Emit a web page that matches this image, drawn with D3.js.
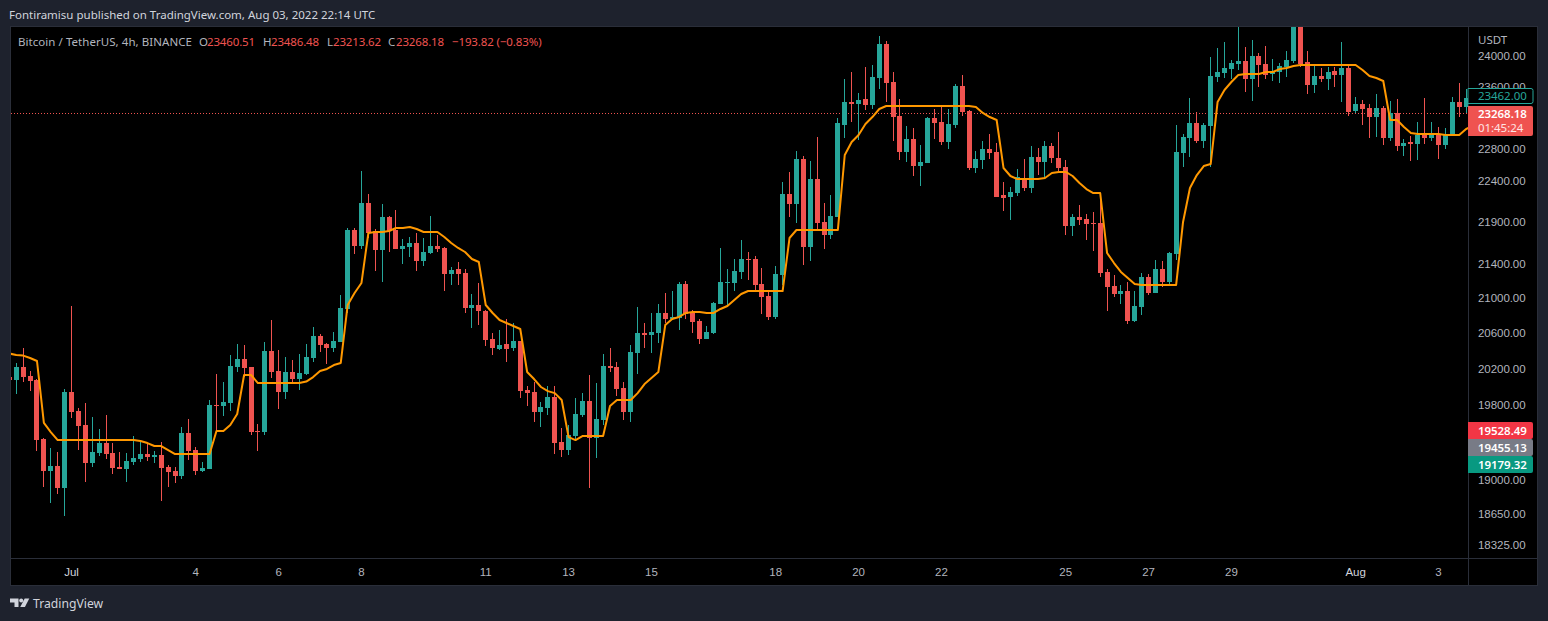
<!DOCTYPE html>
<html>
<head>
<meta charset="utf-8">
<title>BTCUSDT 4h</title>
<script src="https://cdn.jsdelivr.net/npm/d3@7"></script>
<style>
  html, body { margin: 0; padding: 0; background: #1e222d; overflow: hidden; }
  svg { display: block; font-family: "Noto Sans", sans-serif; }
</style>
</head>
<body>
<svg id="chart" width="1548" height="621"></svg>
<script>
// values, one entry per 4h candle
const opens = [20115,20082,20226,20126,20082,19439,19098,19151,18921,19949,
  19741,19590,19183,19289,19396,19289,19141,19120,19194,19226,
  19279,19247,19268,19141,19098,19046,19504,19321,19098,19120,
  19807,19796,19829,20226,20316,20226,19525,19514,20406,20182,
  19949,20171,20093,20149,20328,20576,20485,20440,20507,20885,
  21815,21624,22143,21803,21576,21972,21815,21588,21612,21659,
  21445,21540,21624,21600,21293,21351,21304,20896,20931,20862,
  20541,20428,20485,20440,20519,19971,19949,19730,19774,19895,
  19407,19321,19471,19698,19851,19450,19644,20238,20226,19993,
  19730,20384,20610,20587,20610,20839,20770,20781,21175,20839,
  20747,20541,20610,20943,21187,21187,21316,21469,21469,21175,
  21035,20793,21281,22253,22130,22687,21612,22437,21912,21755,
  21972,23116,23411,23386,23450,23373,23723,24173,23671,23231,
  22774,22938,22599,22637,23206,23154,22900,23116,23619,23295,
  22574,22674,22812,22774,22241,22216,22265,22450,22327,22712,
  22649,22849,22699,22587,21864,21972,21948,21900,21900,21316,
  21152,21058,21093,20747,20908,21257,21070,21351,21199,21528,
  22762,22951,23142,22912,23103,23736,23789,23841,23907,23947,
  23710,24013,23907,23776,23802,23868,23947,24520,23934,23632,
  23749,23710,23815,23763,23854,23295,23386,23334,23218,23334,
  22951,23270,22849,22900,22875,22989,22951,22989,22862,22989,
  23411,23347,23460.51];
const highs = [20115,20267,20440,20182,20093,19450,19342,19300,19982,20919,
  19774,19829,19676,19547,19698,19396,19300,19289,19471,19417,
  19385,19310,19407,19162,19141,19568,19655,19353,19194,19862,
  20149,20060,20361,20485,20474,20226,19601,20507,20758,20417,
  20339,20305,20372,20485,20678,20598,20496,20621,21047,21839,
  21839,22537,22253,21827,22130,21985,22057,21707,21731,21779,
  21719,21985,21755,21612,21375,21433,21351,21058,21187,20873,
  20610,20644,20770,20724,20519,20015,20060,19840,20015,20015,
  19557,19590,19884,19938,20138,20049,20372,20440,20283,20060,
  20474,20908,20724,20839,20943,21070,21093,21199,21210,20873,
  20770,20690,20966,21600,21351,21469,21695,21552,21505,21363,
  21093,21386,22400,22525,22787,22724,22662,22963,22143,22241,
  23206,23710,23802,23528,23868,23894,24280,24213,23802,23450,
  23103,23078,22862,23218,23321,23360,23321,23645,23763,23308,
  22787,22912,23001,22887,22400,22339,22562,22687,22849,22824,
  22912,22887,23027,22674,22009,22118,22009,22033,22265,21351,
  21281,21164,21199,21093,21304,21293,21457,21445,21552,23116,
  23001,23463,23282,23142,24000,24120,24200,23960,24420,24133,
  24226,24053,24146,23973,23920,24080,24600,24600,24080,23894,
  23854,23868,23868,24200,23894,23476,23437,23386,23515,23360,
  23424,23450,22938,22976,23154,23463,23154,23090,23078,23476,
  23658,23580,23486.48];
const lows = [20082,19927,20060,19960,19310,18931,18765,18858,18631,19666,
  19321,18983,19141,19257,19226,19067,19120,18983,19162,19194,
  19204,19183,18786,18931,18973,19014,19215,19057,19088,19120,
  19514,19687,19741,20171,20115,19482,19310,19482,20104,19763,
  19873,20038,19971,20138,20283,20395,20260,20395,20507,20839,
  21528,21588,21719,21327,21199,21552,21588,21410,21493,21327,
  21386,21528,21552,21093,21164,21164,20839,20667,20701,20462,
  20361,20417,20283,20406,19884,19796,19622,19568,19698,19279,
  19247,19268,19439,19676,18921,19236,19590,20171,19906,19644,
  19622,20149,20440,20384,20496,20724,20758,20644,20770,20610,
  20485,20541,20598,20943,20931,21093,21234,21222,21105,20827,
  20758,20770,21164,21972,21900,21398,21445,21815,21588,21707,
  21972,22951,23154,22925,23308,23321,23580,23411,22912,22674,
  22649,22475,22351,22637,22938,22862,22812,23078,23231,22549,
  22512,22562,22687,22216,22045,21936,22228,22290,22265,22487,
  22450,22637,22537,21755,21743,21876,21695,21564,21257,20862,
  21024,20943,20712,20735,20816,21047,21070,21140,21164,21457,
  22587,22712,22887,22824,22587,23671,23723,23710,23828,23541,
  23424,23606,23710,23684,23658,23736,23920,23868,23515,23528,
  23671,23567,23606,23411,23231,23270,23116,22951,22963,22862,
  22912,22787,22724,22662,22674,22875,22912,22687,22812,22989,
  23218,23270,23213.62];
const closes = [20082,20226,20115,20071,19428,19098,19151,18921,19949,19730,
  19579,19183,19300,19396,19279,19130,19120,19204,19236,19279,
  19247,19268,19130,19088,19046,19504,19310,19098,19130,19807,
  19796,19840,20238,20316,20216,19514,19514,20406,20171,19949,
  20171,20093,20160,20339,20576,20474,20440,20519,20896,21815,
  21624,22143,21779,21576,21972,21803,21588,21624,21659,21445,
  21552,21624,21588,21293,21339,21293,20896,20931,20862,20530,
  20440,20474,20428,20519,19960,19938,19730,19785,19895,19396,
  19321,19482,19709,19851,19450,19655,20238,20216,19982,19730,
  20395,20610,20587,20621,20839,20770,20793,21175,20827,20735,
  20541,20621,20954,21199,21199,21327,21469,21457,21164,21024,
  20793,21293,22253,22130,22687,21612,22437,21900,21755,21985,
  23142,23411,23386,23437,23373,23736,24173,23658,23218,22774,
  22938,22599,22649,23206,23142,22900,23129,23619,23282,22574,
  22687,22812,22762,22216,22204,22277,22462,22327,22712,22649,
  22849,22699,22574,21864,21972,21936,21888,21888,21304,21140,
  21058,21093,20747,20919,21257,21070,21351,21199,21540,22774,
  22963,23142,22912,23116,23749,23802,23854,23920,23947,23710,
  24013,23894,23763,23815,23881,23960,24520,23907,23632,23749,
  23710,23802,23763,23854,23282,23386,23321,23218,23334,22951,
  23270,22849,22887,22875,22989,22951,22989,22862,23001,23411,
  23347,23463,23268.18];
// orange trend line
const trendLine = [20378,20361,20355,20328,20294,19612,19514,19428,19428,19428,
  19428,19428,19428,19428,19428,19428,19428,19428,19428,19417,
  19396,19364,19364,19321,19279,19279,19279,19279,19279,19279,
  19525,19525,19590,19709,20138,20138,20049,20049,20049,20049,
  20049,20049,20049,20065,20115,20182,20205,20249,20272,20931,
  21070,21187,21779,21791,21791,21803,21839,21839,21851,21827,
  21791,21791,21791,21731,21659,21600,21552,21469,21433,20931,
  20839,20758,20724,20690,20656,20171,20093,20005,19960,19938,
  19862,19460,19428,19471,19471,19471,19471,19796,19862,19862,
  19862,19938,20038,20104,20171,20701,20770,20793,20839,20850,
  20850,20839,20839,20885,20919,20989,21058,21093,21093,21093,
  21093,21093,21093,21719,21815,21815,21815,21815,21815,21815,
  21815,22737,22900,22989,23129,23218,23321,23360,23360,23360,
  23360,23360,23360,23360,23360,23360,23360,23360,23360,23360,
  23347,23270,23218,23180,22574,22475,22437,22437,22437,22437,
  22450,22512,22525,22525,22475,22388,22314,22265,22265,21540,
  21421,21316,21245,21175,21164,21164,21164,21164,21164,21164,
  21912,22327,22487,22599,22624,23411,23567,23671,23763,23776,
  23776,23776,23802,23802,23841,23854,23881,23894,23894,23894,
  23894,23894,23894,23894,23894,23894,23828,23749,23723,23684,
  23180,23180,23090,23014,23001,23001,23001,23001,22989,22989,
  22989,23065,23103];

const priceTicks = [24000,23600,22800,22400,21900,21400,21000,20600,20200,19800,19000,18650,18325];
const timeTickIndex = [9,27,39,51,69,81,93,111,123,135,153,165,177,195,207];
const timeTickLabels = ["Jul","4","6","8","11","13","15","18","20","22","25","27","29","Aug","3"];
const monthLabels = ["Jul","Aug"];

const lastPrice = 23268.18;
const askPrice = 23462.00;
const sideLabels = [
  { text: "19528.49", fill: "#f23645" },
  { text: "19455.13", fill: "#787b86" },
  { text: "19179.32", fill: "#089981" }
];

const pane = { left: 11, right: 1468, top: 27, bottom: 558 };
const frame = { left: 10, right: 1537, top: 27, bottom: 585 };
const upColor = "#26a69a";
const downColor = "#ef5350";
const axisText = "#b2b5be";

const svg = d3.select("#chart");

const x = d3.scaleLinear().domain([9, 207]).range([71, 1438]);
const y = d3.scaleLog().domain([18325, 24000]).range([546, 57]);

// frame
svg.append("rect")
  .attr("x", frame.left + 0.5).attr("y", frame.top - 0.5)
  .attr("width", frame.right - frame.left).attr("height", frame.bottom - frame.top + 1)
  .attr("fill", "#000").attr("stroke", "#2a2e39");

svg.append("defs").append("clipPath").attr("id", "pane").append("rect")
  .attr("x", pane.left).attr("y", pane.top)
  .attr("width", pane.right - pane.left).attr("height", pane.bottom - pane.top);

const plot = svg.append("g").attr("clip-path", "url(#pane)");

// last price dotted line
plot.append("line")
  .attr("x1", pane.left).attr("x2", pane.right)
  .attr("y1", Math.round(y(lastPrice)) + 0.5).attr("y2", Math.round(y(lastPrice)) + 0.5)
  .attr("stroke", downColor).attr("stroke-dasharray", "1 2");

// candles
const candles = plot.selectAll("g.candle")
  .data(d3.range(opens.length))
  .join("g")
  .attr("class", "candle")
  .attr("fill", i => closes[i] >= opens[i] ? upColor : downColor)
  .attr("stroke", "none");

candles.append("rect")
  .attr("x", i => Math.round(x(i)))
  .attr("width", 1)
  .attr("y", i => Math.round(y(highs[i])))
  .attr("height", i => Math.max(1, Math.round(y(lows[i])) - Math.round(y(highs[i]))));

candles.append("rect")
  .attr("x", i => Math.round(x(i)) - 2)
  .attr("width", 5)
  .attr("y", i => Math.round(y(Math.max(opens[i], closes[i]))))
  .attr("height", i => Math.max(1, Math.round(y(Math.min(opens[i], closes[i]))) - Math.round(y(Math.max(opens[i], closes[i])))));

// trend line
const line = d3.line().x((d, i) => x(i) + 0.5).y(d => y(d));
plot.append("path")
  .datum(trendLine)
  .attr("d", line)
  .attr("fill", "none")
  .attr("stroke", "#ff9800")
  .attr("stroke-width", 2)
  .attr("stroke-linejoin", "round");

// axis separators
svg.append("line").attr("x1", pane.right + 0.5).attr("x2", pane.right + 0.5)
  .attr("y1", frame.top).attr("y2", frame.bottom).attr("stroke", "#2a2e39");
svg.append("line").attr("x1", frame.left).attr("x2", frame.right)
  .attr("y1", pane.bottom + 0.5).attr("y2", pane.bottom + 0.5).attr("stroke", "#2a2e39");

// price axis
const yAxis = d3.axisRight(y).tickValues(priceTicks).tickSize(0).tickPadding(0)
  .tickFormat(d => d.toFixed(2));
const yAxisG = svg.append("g")
  .attr("transform", "translate(1478,-0.8)")
  .call(yAxis);
yAxisG.select(".domain").remove();
yAxisG.selectAll("text").attr("fill", axisText).attr("font-size", 11.5)
  .attr("letter-spacing", -0.05).attr("font-family", null);

svg.append("text").attr("x", 1478).attr("y", 44).attr("fill", axisText)
  .attr("font-size", 11.5).text("USDT");

// time axis
const xAxis = d3.axisBottom(x).tickValues(timeTickIndex).tickSize(0).tickPadding(0)
  .tickFormat((d, i) => timeTickLabels[i]);
const xAxisG = svg.append("g")
  .attr("transform", "translate(0,567.5)")
  .call(xAxis);
xAxisG.select(".domain").remove();
xAxisG.selectAll("text")
  .attr("fill", (d, i) => monthLabels.includes(timeTickLabels[i]) ? "#d1d4dc" : axisText)
  .attr("font-weight", (d, i) => monthLabels.includes(timeTickLabels[i]) ? 500 : 400)
  .attr("font-size", 11.5).attr("font-family", null);

// price labels on the axis
function priceBox(top, height, fill, stroke) {
  svg.append("path")
    .attr("d", `M${pane.right},${top}h63a2,2 0 0 1 2,2v${height - 4}a2,2 0 0 1 -2,2h-63z`)
    .attr("fill", fill).attr("stroke", stroke || "none");
}
function boxText(txt, baseline, color, weight) {
  svg.append("text").attr("x", 1478).attr("y", baseline).attr("fill", color)
    .attr("font-size", 11.5).attr("letter-spacing", -0.05)
    .attr("font-weight", weight || 400).text(txt);
}

priceBox(88.5, 15, "#000", upColor);
boxText(askPrice.toFixed(2), 100, upColor);
priceBox(106, 30, downColor);
boxText(lastPrice.toFixed(2), 118, "#fff", 600);
boxText("01:45:24", 132, "#ffe4e4", 400);

sideLabels.forEach((d, i) => {
  priceBox(422 + i * 17, 17, d.fill);
  boxText(d.text, 435 + i * 17, "#fff", 600);
});

// header and legend
svg.append("text").attr("x", 9).attr("y", 19).attr("fill", "#d1d4dc")
  .attr("font-size", 11.5).text("Fontiramisu published on TradingView.com, Aug 03, 2022 22:14 UTC");

const legendGrey = "#b2b5be";
const legendParts = [
  ["Bitcoin / TetherUS, 4h, BINANCE", 18, legendGrey, 0.05],
  ["O", 199, legendGrey, 0], ["23460.51", 207, downColor, -0.15],
  ["H", 263, legendGrey, 0], ["23486.48", 271, downColor, -0.15],
  ["L", 327, legendGrey, 0], ["23213.62", 333, downColor, -0.15],
  ["C", 388, legendGrey, 0], ["23268.18", 396, downColor, -0.15],
  ["\u2212193.82 (\u22120.83%)", 452, downColor, -0.12]
];
legendParts.forEach(p => {
  svg.append("text").attr("x", p[1]).attr("y", 46).attr("fill", p[2])
    .attr("font-size", 11.5).attr("letter-spacing", p[3]).text(p[0]);
});

// footer logo + name
const logo = svg.append("g").attr("fill", "#d1d4dc");
logo.append("path").attr("d", "M10,598.5h8.5v8.5h-4v-4.5h-4.5z");
logo.append("circle").attr("cx", 21.2).attr("cy", 600.5).attr("r", 2);
logo.append("path").attr("d", "M24.7,598.5h4.6l-4.4,8.5h-4.7z");
svg.append("text").attr("x", 33).attr("y", 608).attr("fill", "#d1d4dc")
  .attr("font-size", 12.2).text("TradingView");
</script>
</body>
</html>
